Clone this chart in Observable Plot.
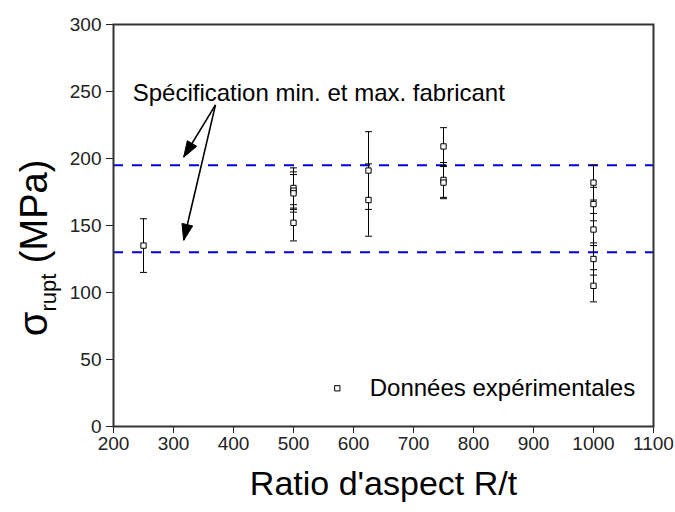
<!DOCTYPE html>
<html>
<head>
<meta charset="utf-8">
<script src="https://cdn.jsdelivr.net/npm/d3@7"></script>
<script src="https://cdn.jsdelivr.net/npm/@observablehq/plot@0.6"></script>
<style>
  html, body { margin: 0; padding: 0; background: white; }
</style>
</head>
<body>
<div id="chart"></div>
<script>
// ---- data ----
const ratio  = [250, 500, 500, 500, 500, 625, 625, 750, 750, 750, 1000, 1000, 1000, 1000, 1000];
const stress = [135, 178, 176, 174, 152, 191, 169, 209, 184, 182, 182, 166, 147, 125, 105];
const errBar = [20, 15, 14, 14, 13.5, 29, 27, 14, 13, 12, 13, 12.5, 12, 12, 12];

const specLimits = [130, 195];

const xTicks = [200, 300, 400, 500, 600, 700, 800, 900, 1000, 1100];
const yTicks = [0, 50, 100, 150, 200, 250, 300];

const xLabel = "Ratio d'aspect R/t";
const annotationText = "Spécification min. et max. fabricant";
const annotationPos = [232, 249];        // [x, y] in data units
const arrowStart = [370, 240];
const arrowTips = [[317, 201], [317, 139]];
const legendText = "Données expérimentales";
const legendPos = [573, 28.5];

// ---- layout ----
const W = 675, H = 512, mL = 113, mR = 22, mT = 24, mB = 86;
const font = "'Liberation Sans', Arial, sans-serif";

const data = ratio.map((r, i) => ({x: r, y: stress[i], lo: stress[i] - errBar[i], hi: stress[i] + errBar[i]}));

const xs = Plot.scale({x: {domain: [200, 1100], range: [mL, W - mR]}});
const ys = Plot.scale({y: {domain: [0, 300], range: [H - mB, mT]}});

const capSymbol = {draw(ctx, size) { const r = Math.sqrt(size / Math.PI); ctx.moveTo(-r, 0); ctx.lineTo(r, 0); }};

function headSymbol(start, tip) {
  const dx = xs.apply(tip[0]) - xs.apply(start[0]);
  const dy = ys.apply(tip[1]) - ys.apply(start[1]);
  const len = Math.hypot(dx, dy);
  const ux = dx / len, uy = dy / len;
  const px = -uy, py = ux;
  const L = 16, w = 5.5;
  return {draw(ctx) {
    ctx.moveTo(0, 0);
    ctx.lineTo(-L * ux + w * px, -L * uy + w * py);
    ctx.lineTo(-L * ux - w * px, -L * uy - w * py);
    ctx.closePath();
  }};
}

const arrows = arrowTips.map(t => ({x1: arrowStart[0], y1: arrowStart[1], x2: t[0], y2: t[1]}));

const plot = Plot.plot({
  width: W, height: H,
  marginLeft: mL, marginRight: mR, marginTop: mT, marginBottom: mB,
  style: {fontFamily: font, fontSize: "19px", color: "#222", background: "white"},
  x: {domain: [200, 1100], ticks: xTicks, tickFormat: d => String(d), label: null, tickSize: 7, tickPadding: 3},
  y: {domain: [0, 300], ticks: yTicks, tickFormat: d => String(d), label: null, tickSize: 7, tickPadding: 5},
  marks: [
    Plot.ruleY(specLimits, {stroke: "#0000dd", strokeWidth: 2, strokeDasharray: "10,9"}),
    Plot.ruleX(data, {x: "x", y1: "lo", y2: "hi", stroke: "black", strokeWidth: 1}),
    Plot.dot(data, {x: "x", y: "hi", symbol: capSymbol, r: 3.5, stroke: "black", strokeWidth: 1, fill: "none"}),
    Plot.dot(data, {x: "x", y: "lo", symbol: capSymbol, r: 3.5, stroke: "black", strokeWidth: 1, fill: "none"}),
    Plot.dot(data, {x: "x", y: "y", symbol: "square", r: 3, stroke: "black", strokeWidth: 1, fill: "white"}),
    Plot.link(arrows, {x1: "x1", y1: "y1", x2: "x2", y2: "y2", stroke: "black", strokeWidth: 1.6}),
    ...arrows.map(a => Plot.dot([a], {x: "x2", y: "y2", symbol: headSymbol([a.x1, a.y1], [a.x2, a.y2]), r: 5, fill: "black", stroke: "black", strokeWidth: 1})),
    Plot.text([annotationText], {x: () => annotationPos[0], y: () => annotationPos[1], textAnchor: "start", fontSize: 24, fill: "black"}),
    Plot.dot([legendPos], {x: d => d[0], y: d => d[1], symbol: "square", r: 3, stroke: "black", strokeWidth: 1, fill: "white"}),
    Plot.text([legendText], {x: () => legendPos[0] + 54, y: () => legendPos[1], textAnchor: "start", fontSize: 24, fill: "black"}),
    Plot.text([xLabel], {frameAnchor: "bottom", dy: 68, fontSize: 34, fill: "black"}),
    Plot.frame({stroke: "#333", strokeWidth: 2})
  ]
});

document.getElementById("chart").appendChild(plot);

// y-axis label with subscript
const svg = d3.select(plot);
const yl = svg.append("text")
  .attr("transform", `translate(47, 248) rotate(-90)`)
  .attr("text-anchor", "middle")
  .attr("font-family", font)
  .attr("fill", "black");
yl.append("tspan").attr("font-size", 40).text("σ");
yl.append("tspan").attr("font-size", 22).attr("dy", 9).text("rupt");
yl.append("tspan").attr("font-size", 38).attr("dy", -9).text(" (MPa)");
</script>
</body>
</html>
